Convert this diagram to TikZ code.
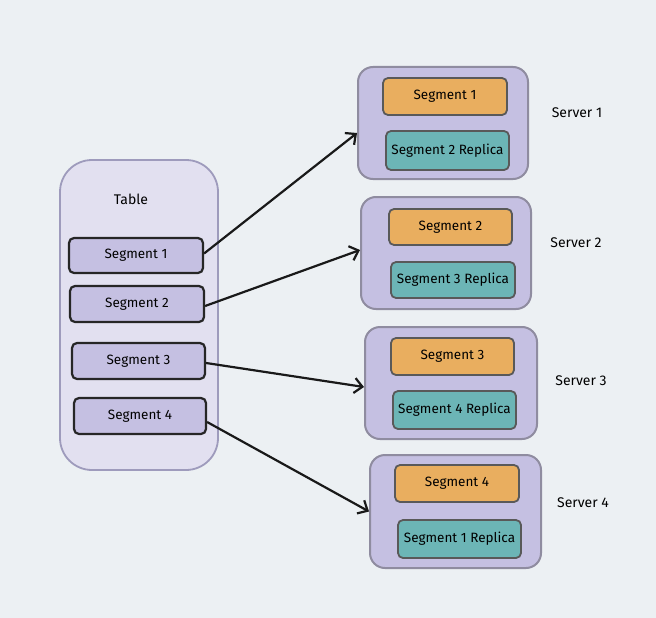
\documentclass[tikz,border=0pt]{standalone}
\usepackage{fontspec}
\setmainfont{Fira Sans}
\usetikzlibrary{arrows.meta}
\definecolor{bg}{HTML}{ECF0F3}
\definecolor{lav}{HTML}{C5C0E2}
\definecolor{lavlight}{HTML}{E2E0F0}
\definecolor{lavstroke}{HTML}{9E9BBC}
\definecolor{srvstroke}{HTML}{8F8CA0}
\definecolor{orng}{HTML}{E9AE5F}
\definecolor{teal}{HTML}{6CB5B6}
\tikzset{
  base/.style={rectangle, inner sep=0pt, font=\fontsize{13.5}{16}\selectfont},
  tablebox/.style={base, fill=lavlight, draw=lavstroke, line width=1.8pt, rounded corners=32pt},
  segbox/.style={base, fill=lav, draw=black!85, line width=2.2pt, rounded corners=5pt},
  srvbox/.style={base, fill=lav, draw=srvstroke, line width=2pt, rounded corners=15pt},
  primbox/.style={base, fill=orng, draw=black!65, line width=1.8pt, rounded corners=5pt},
  repbox/.style={base, fill=teal, draw=black!65, line width=1.8pt, rounded corners=5pt},
  lbl/.style={base, font=\fontsize{14}{16}\selectfont},
  conn/.style={line width=2.2pt, draw=black!90, -{Straight Barb[length=8pt,width=15pt,line width=2.2pt]}}
}
\begin{document}
\begin{tikzpicture}[x=1pt,y=-1pt]
\fill[bg] (0,0) rectangle (656,618);
\useasboundingbox (0,0) rectangle (656,618);
% table
\node[tablebox, minimum width=158pt, minimum height=310pt] (tbl) at (139,315) {};
\node[lbl] (tbllbl) at (131,199) {Table};
\node[segbox, minimum width=134pt, minimum height=35pt] (seg1) at (136,255.5) {Segment 1};
\node[segbox, minimum width=134pt, minimum height=36pt] (seg2) at (137,304) {Segment 2};
\node[segbox, minimum width=133pt, minimum height=36pt] (seg3) at (138.5,361) {Segment 3};
\node[segbox, minimum width=132pt, minimum height=36pt] (seg4) at (140,416) {Segment 4};
% servers
\node[srvbox, minimum width=170pt, minimum height=112pt] (srv1) at (443,123) {};
\node[primbox, minimum width=124pt, minimum height=37pt] (p1) at (445,96.5) {Segment 1};
\node[repbox, minimum width=123pt, minimum height=39pt] (r1) at (447.5,150.5) {Segment 2 Replica};
\node[lbl] (l1) at (577,113) {Server 1};

\node[srvbox, minimum width=170pt, minimum height=112pt] (srv2) at (446,253) {};
\node[primbox, minimum width=123pt, minimum height=36pt] (p2) at (450.5,227) {Segment 2};
\node[repbox, minimum width=124pt, minimum height=36pt] (r2) at (453,280) {Segment 3 Replica};
\node[lbl] (l2) at (576,243) {Server 2};

\node[srvbox, minimum width=172pt, minimum height=112pt] (srv3) at (451,383) {};
\node[primbox, minimum width=123pt, minimum height=37pt] (p3) at (452.5,356.5) {Segment 3};
\node[repbox, minimum width=123pt, minimum height=38pt] (r3) at (454.5,410) {Segment 4 Replica};
\node[lbl] (l3) at (581,381) {Server 3};

\node[srvbox, minimum width=171pt, minimum height=113pt] (srv4) at (455.5,511.5) {};
\node[primbox, minimum width=124pt, minimum height=37pt] (p4) at (457,483.5) {Segment 4};
\node[repbox, minimum width=123pt, minimum height=38pt] (r4) at (459.5,539) {Segment 1 Replica};
\node[lbl] (l4) at (583,503) {Server 4};
% connectors
\draw[conn] ([yshift=2pt]seg1.east) -- ([yshift=-10pt]srv1.west);
\draw[conn] ([yshift=-2pt]seg2.east) -- ([yshift=3pt]srv2.west);
\draw[conn] ([yshift=-2pt]seg3.east) -- ([yshift=-4pt]srv3.west);
\draw[conn] ([yshift=-6pt]seg4.east) -- (srv4.west);
\end{tikzpicture}
\end{document}
